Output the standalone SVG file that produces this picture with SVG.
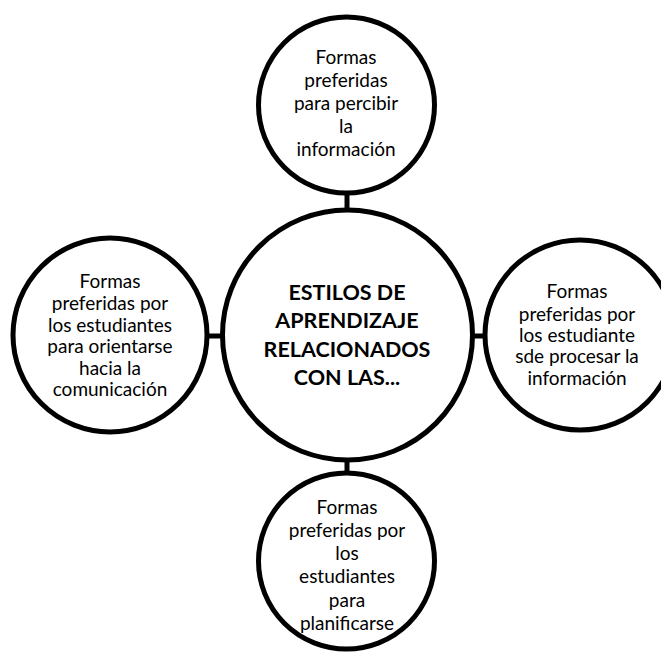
<svg xmlns="http://www.w3.org/2000/svg" width="661" height="653" viewBox="0 0 661 653">
<style>
.node{fill:#fff;stroke:#000;stroke-width:5}
.edge{stroke:#000;stroke-width:5;fill:none}
.t{font-family:Lato,"Open Sans","Liberation Sans",sans-serif;font-size:19px;fill:#000;text-anchor:middle}
.b{font-family:Lato,"Open Sans","Liberation Sans",sans-serif;font-size:21.5px;font-weight:bold;fill:#000;text-anchor:middle}
</style>
<rect width="661" height="653" fill="#fff"/>
<g id="connectors">
<line class="edge" x1="347" y1="190" x2="347" y2="212"/>
<line class="edge" x1="205" y1="336" x2="223" y2="336"/>
<line class="edge" x1="472" y1="336" x2="489" y2="336"/>
<line class="edge" x1="347" y1="458" x2="347" y2="477"/>
</g>
<g id="center">
<circle class="node" cx="347.5" cy="335" r="125"/>
<text class="b" x="347" y="300">ESTILOS DE</text>
<text class="b" x="347" y="328">APRENDIZAJE</text>
<text class="b" x="347" y="357">RELACIONADOS</text>
<text class="b" x="347" y="385">CON LAS...</text>
</g>
<g id="top">
<circle class="node" cx="346.5" cy="105" r="88"/>
<text class="t" x="346" y="64">Formas</text>
<text class="t" x="346" y="87">preferidas</text>
<text class="t" x="346" y="110">para percibir</text>
<text class="t" x="346" y="133">la</text>
<text class="t" x="346" y="156">información</text>
</g>
<g id="left">
<circle class="node" cx="110" cy="335" r="97"/>
<text class="t" x="110" y="288">Formas</text>
<text class="t" x="110" y="310">preferidas por</text>
<text class="t" x="110" y="332">los estudiantes</text>
<text class="t" x="110" y="353">para orientarse</text>
<text class="t" x="110" y="375">hacia la</text>
<text class="t" x="110" y="396">comunicación</text>
</g>
<g id="right">
<circle class="node" cx="580" cy="335" r="95"/>
<text class="t" x="577" y="298">Formas</text>
<text class="t" x="577" y="321">preferidas por</text>
<text class="t" x="577" y="342">los estudiante</text>
<text class="t" x="577" y="363">sde procesar la</text>
<text class="t" x="577" y="385">información</text>
</g>
<g id="bottom">
<circle class="node" cx="346.5" cy="561" r="88"/>
<text class="t" x="347" y="514">Formas</text>
<text class="t" x="347" y="537">preferidas por</text>
<text class="t" x="347" y="560">los</text>
<text class="t" x="347" y="583">estudiantes</text>
<text class="t" x="347" y="607">para</text>
<text class="t" x="347" y="630">planificarse</text>
</g>
</svg>
